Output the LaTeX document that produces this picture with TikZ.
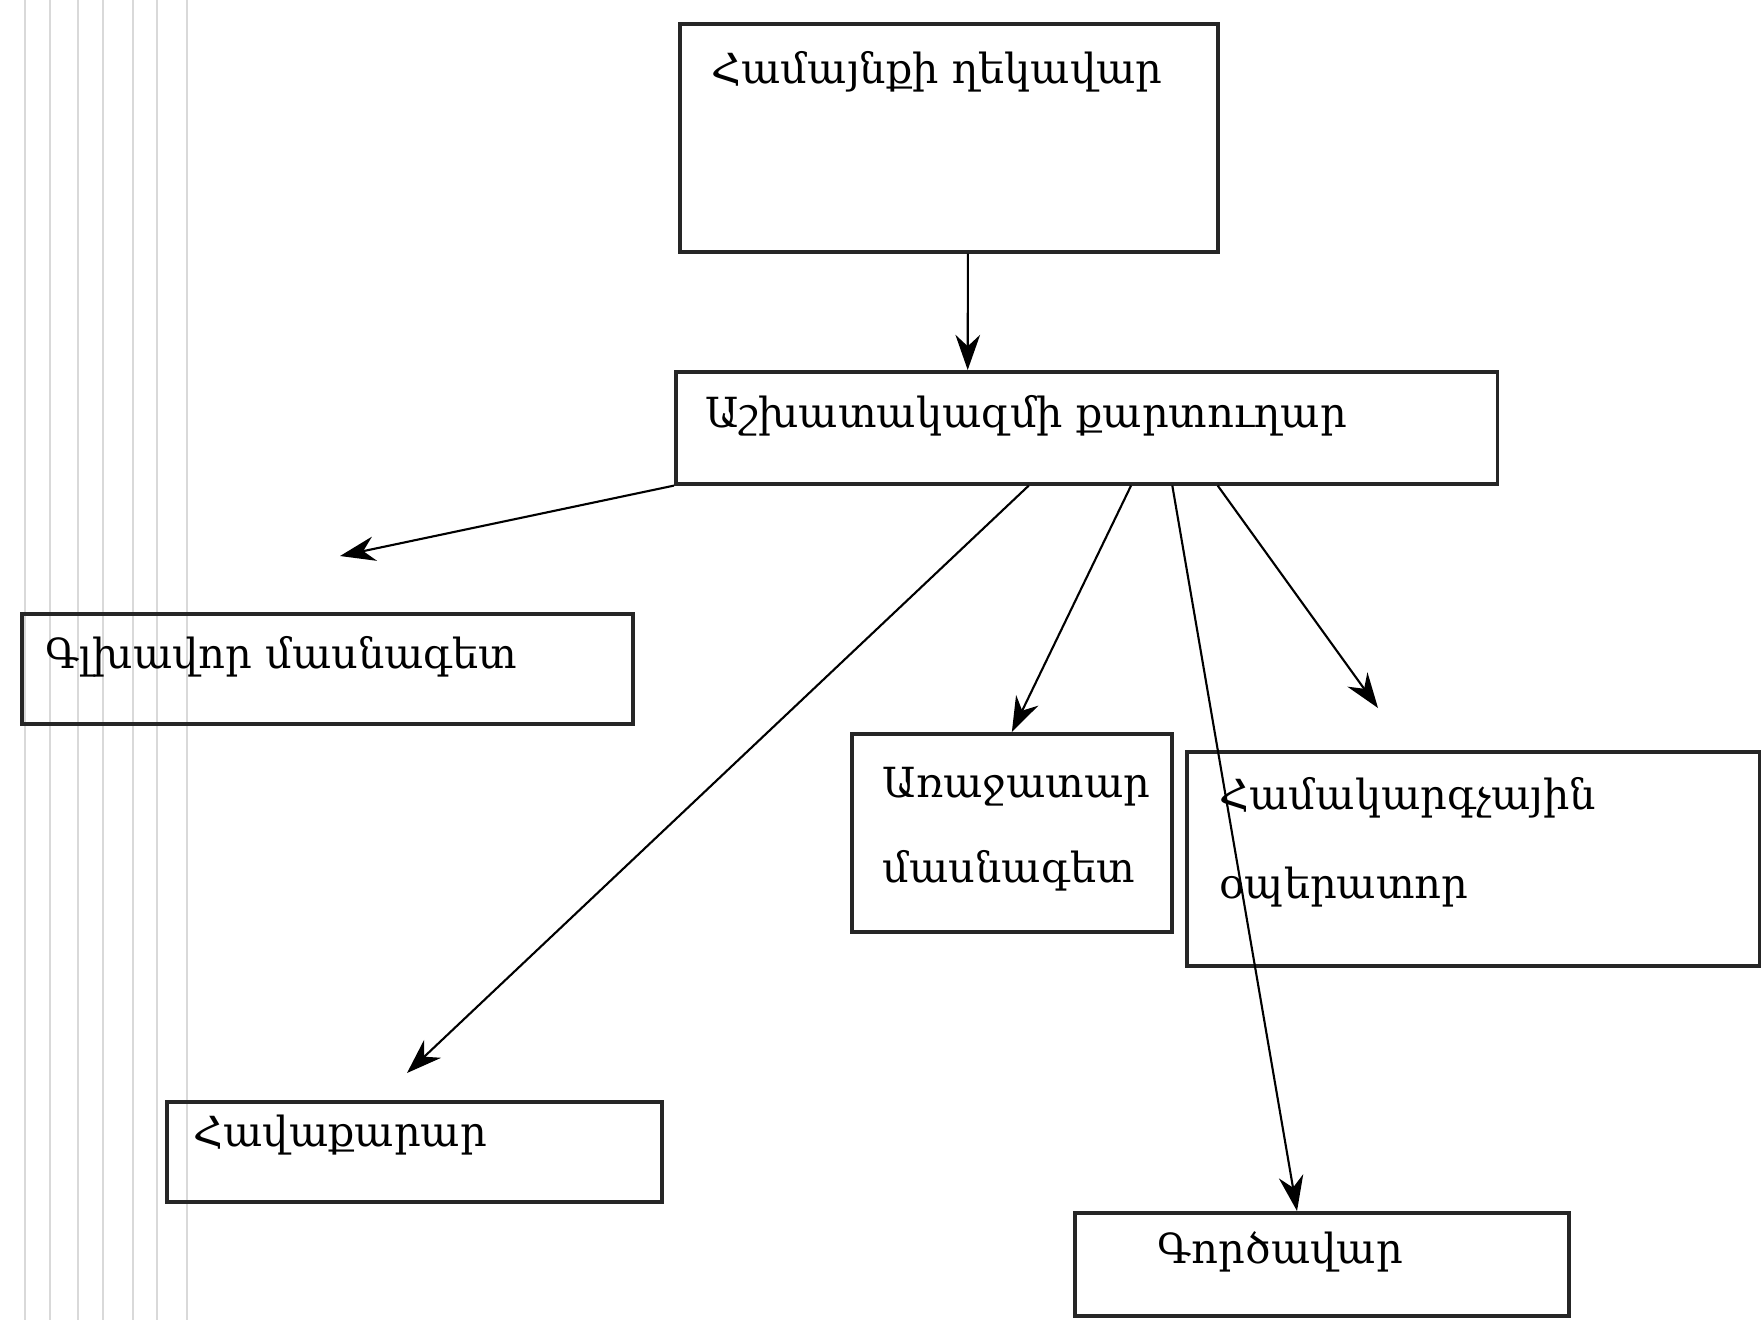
\documentclass[tikz,border=0pt]{standalone}
\usepackage{fontspec}
\setmainfont{DejaVu Serif}
\usetikzlibrary{calc,arrows.meta}
\tikzset{
  box/.style={draw=black!85, line width=1pt, rectangle, inner sep=0pt, anchor=north west},
  lbl/.style={anchor=base west, inner sep=0pt, font=\fontsize{11.8}{14}\selectfont},
  arr/.style={-{Stealth[length=10pt,width=7pt]}, line width=0.6pt}
}
\begin{document}
\begin{tikzpicture}[x=0.01cm, y=-0.01cm]
                \useasboundingbox (0,0) rectangle (1761,1320);
                % faint lines along the left edge
                \foreach \lx in {25,50,78,103,133,157,187}
                    \draw[gray!30, line width=0.6pt] (\lx,0) -- (\lx,1320);

                \node[box, minimum width=5.38cm, minimum height=2.28cm] 
                    (head) at (678,22) {};
                \node[box, minimum width=8.21cm, minimum height=1.12cm] 
                    (sec) at (674,370) {};
                \node[box, minimum width=6.11cm, minimum height=1.10cm] 
                    (chief) at (20,612) {};
                \node[box, minimum width=3.20cm, minimum height=1.98cm] 
                    (lead) at (850,732) {};
                \node[box, minimum width=5.73cm, minimum height=2.14cm] 
                    (oper) at (1185,750) {};
                \node[box, minimum width=4.95cm, minimum height=1.00cm] 
                    (clean) at (165,1100) {};
                \node[box, minimum width=4.94cm, minimum height=1.03cm] 
                    (clerk) at (1073,1211) {};

                \node[lbl] (head-t) at (711,83) {Համայնքի ղեկավար};
                \node[lbl] (sec-t) at (705,427) {Աշխատակազմի քարտուղար};
                \node[lbl] (chief-t) at (45,668) {Գլխավոր մասնագետ};
                \node[lbl] (lead-t1) at (882,797) {Առաջատար};
                \node[lbl] (lead-t2) at (882,882) {մասնագետ};
                \node[lbl] (oper-t1) at (1219,809) {Համակարգչային};
                \node[lbl] (oper-t2) at (1219,898) {օպերատոր};
                \node[lbl] (clean-t) at (193,1146) {Հավաքարար};
                \node[lbl] (clerk-t) at (1157,1263) {Գործավար};

                \coordinate (free1) at (340,556);
                \coordinate (free2) at (407,1073);
                \coordinate (free3) at (1378,708);

                \draw[arr] ($(head.south west)!0.535!(head.south east)$) 
                    -- ($(sec.north west)!0.356!(sec.north east)$);
                \draw[arr] (sec.south west) -- (free1);
                \draw[arr] ($(sec.south west)!0.43!(sec.south east)$) -- (free2);
                \draw[arr] ($(sec.south west)!0.554!(sec.south east)$) -- (lead.north);
                \draw[arr] ($(sec.south west)!0.604!(sec.south east)$) 
                    -- ($(clerk.north west)!0.45!(clerk.north east)$);
                \draw[arr] ($(sec.south west)!0.659!(sec.south east)$) -- (free3);
\end{tikzpicture}
\end{document}
